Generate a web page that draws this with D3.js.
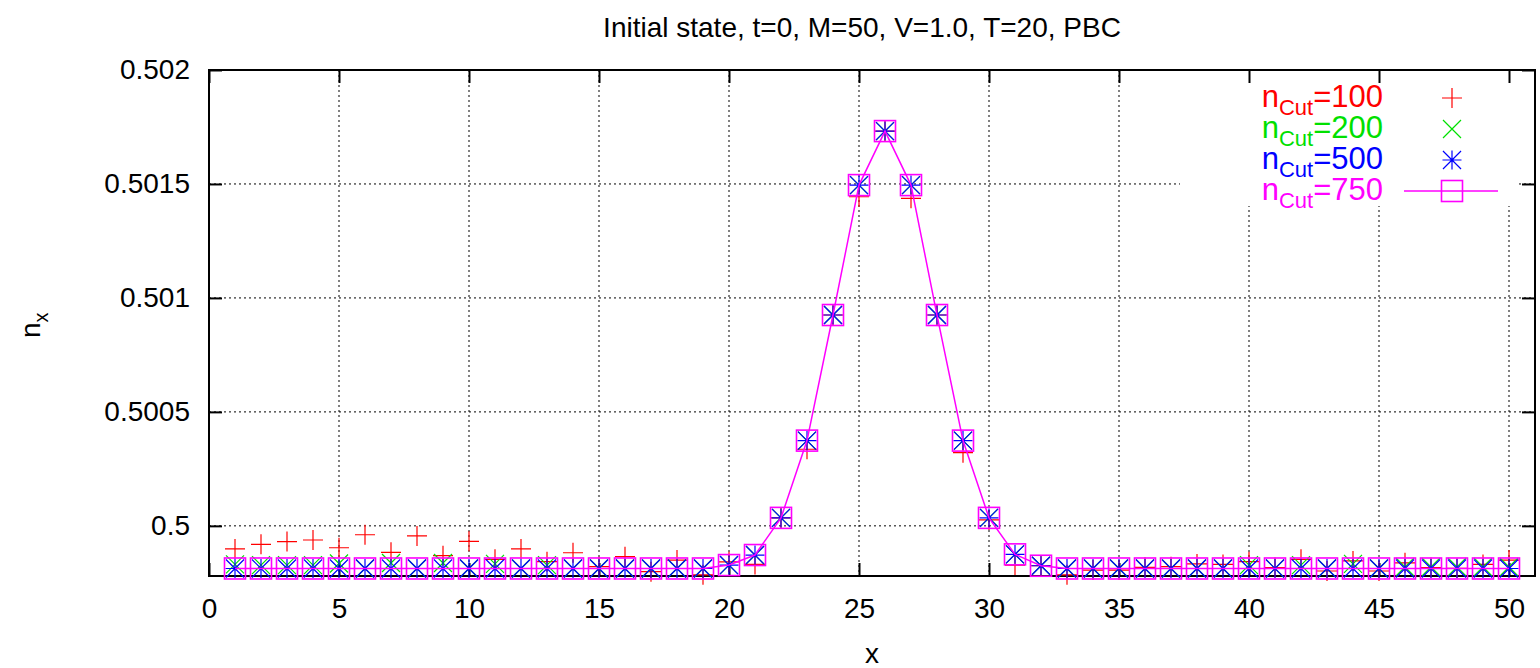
<!DOCTYPE html>
<html>
<head>
<meta charset="utf-8">
<script src="https://cdn.jsdelivr.net/npm/d3@7"></script>
<style>
  body { margin: 0; background: #fff; }
  svg { display: block; font-family: "Liberation Sans", Arial, sans-serif; }
</style>
</head>
<body>
<svg width="1540" height="668"></svg>
<script>
// site index and n_x values for each cutoff
const sites = d3.range(1, 51);
const n100 = [0.499899, 0.499919, 0.499931, 0.499938, 0.499904, 0.499961, 0.499884, 0.499956, 0.499869, 0.499932,
  0.499853, 0.499899, 0.499843, 0.499882, 0.499821, 0.499865, 0.499799, 0.499850, 0.499785, 0.499842,
  0.499831, 0.500035, 0.500336, 0.500925, 0.501444, 0.501732, 0.501437, 0.500925, 0.500321, 0.500026,
  0.499828, 0.499825, 0.499785, 0.499806, 0.499806, 0.499818, 0.499821, 0.499833, 0.499831, 0.499843,
  0.499817, 0.499853, 0.499802, 0.499846, 0.499802, 0.499838, 0.499817, 0.499814, 0.499831, 0.499850];
const n200 = [0.499831, 0.499828, 0.499828, 0.499828, 0.499835, 0.499813, 0.499837, 0.499813, 0.499837, 0.499813,
  0.499833, 0.499813, 0.499828, 0.499813, 0.499813, 0.499813, 0.499813, 0.499813, 0.499813, 0.499828,
  0.499872, 0.500035, 0.500374, 0.500925, 0.501495, 0.501732, 0.501495, 0.500925, 0.500374, 0.500035,
  0.499875, 0.499825, 0.499813, 0.499813, 0.499813, 0.499813, 0.499813, 0.499813, 0.499813, 0.499828,
  0.499813, 0.499828, 0.499813, 0.499833, 0.499813, 0.499820, 0.499820, 0.499820, 0.499820, 0.499820];
const n500 = [0.499813, 0.499813, 0.499813, 0.499813, 0.499813, 0.499813, 0.499813, 0.499813, 0.499813, 0.499813,
  0.499813, 0.499813, 0.499813, 0.499813, 0.499813, 0.499813, 0.499813, 0.499813, 0.499813, 0.499828,
  0.499872, 0.500035, 0.500374, 0.500925, 0.501495, 0.501732, 0.501495, 0.500925, 0.500374, 0.500035,
  0.499875, 0.499825, 0.499813, 0.499813, 0.499813, 0.499813, 0.499813, 0.499813, 0.499813, 0.499813,
  0.499813, 0.499813, 0.499813, 0.499813, 0.499813, 0.499813, 0.499813, 0.499813, 0.499813, 0.499813];
const n750 = [0.499813, 0.499813, 0.499813, 0.499813, 0.499813, 0.499813, 0.499813, 0.499813, 0.499813, 0.499813,
  0.499813, 0.499813, 0.499813, 0.499813, 0.499813, 0.499813, 0.499813, 0.499813, 0.499813, 0.499828,
  0.499872, 0.500035, 0.500374, 0.500925, 0.501495, 0.501732, 0.501495, 0.500925, 0.500374, 0.500035,
  0.499875, 0.499825, 0.499813, 0.499813, 0.499813, 0.499813, 0.499813, 0.499813, 0.499813, 0.499813,
  0.499813, 0.499813, 0.499813, 0.499813, 0.499813, 0.499813, 0.499813, 0.499813, 0.499813, 0.499813];

const cutLabels = ['100', '200', '500', '750'];
const xTicks = d3.range(0, 51, 5);
const yTicks = [0.5, 0.5005, 0.501, 0.5015, 0.502];
const yTickLabels = ['0.5', '0.5005', '0.501', '0.5015', '0.502'];
const title = 'Initial state, t=0, M=50, V=1.0, T=20, PBC';

const svg = d3.select('svg');
const width = 1540, height = 668;
const margin = { top: 70, right: 5, bottom: 92, left: 209 };
const plotWidth = width - margin.left - margin.right;
const plotHeight = height - margin.top - margin.bottom;

const x = d3.scaleLinear().domain([0, 51]).range([0, plotWidth]);
const y = d3.scaleLinear().domain([0.49978, 0.502]).range([plotHeight, 0]);

const g = svg.append('g').attr('transform', `translate(${margin.left},${margin.top})`);

// grid (dotted)
const grid = g.append('g');
xTicks.filter(d => d > 0).forEach(d => {
  grid.append('line')
    .attr('x1', x(d)).attr('x2', x(d)).attr('y1', 0).attr('y2', plotHeight)
    .attr('stroke', '#000').attr('stroke-width', 1).attr('stroke-dasharray', '2,3');
});
yTicks.filter(d => d < 0.502).forEach(d => {
  grid.append('line')
    .attr('x1', 0).attr('x2', plotWidth).attr('y1', y(d)).attr('y2', y(d))
    .attr('stroke', '#000').attr('stroke-width', 1).attr('stroke-dasharray', '2,3');
});

// key area hides the grid
g.append('rect')
  .attr('x', 971).attr('y', 0).attr('width', 338).attr('height', 136)
  .attr('fill', '#fff');

// axes with inward ticks, mirrored
const tickLen = 13;
const axB = g.append('g').attr('transform', `translate(0,${plotHeight})`)
  .call(d3.axisBottom(x).tickValues(xTicks).tickSize(-tickLen).tickPadding(22).tickFormat(d3.format('d')));
const axT = g.append('g')
  .call(d3.axisTop(x).tickValues(xTicks).tickSize(-tickLen).tickFormat(''));
const axL = g.append('g')
  .call(d3.axisLeft(y).tickValues(yTicks).tickSize(-tickLen).tickPadding(19).tickFormat((d, i) => yTickLabels[i]));
const axR = g.append('g').attr('transform', `translate(${plotWidth},0)`)
  .call(d3.axisRight(y).tickValues(yTicks).tickSize(-tickLen).tickFormat(''));

[axB, axT, axL, axR].forEach(a => {
  a.select('.domain').remove();
  a.selectAll('.tick line').attr('stroke', '#000').attr('stroke-width', 2);
  a.selectAll('.tick text').attr('fill', '#000').style('font-size', '28px')
    .style('font-family', '"Liberation Sans", Arial, sans-serif');
});
axB.selectAll('.tick text').attr('dy', '0.71em');

// border
g.append('rect')
  .attr('width', plotWidth).attr('height', plotHeight)
  .attr('fill', 'none').attr('stroke', '#000').attr('stroke-width', 2);

// marker shapes
const plusPath = (cx, cy, r) => `M${cx - r},${cy}H${cx + r}M${cx},${cy - r}V${cy + r}`;
const crossPath = (cx, cy, r) => `M${cx - r},${cy - r}L${cx + r},${cy + r}M${cx - r},${cy + r}L${cx + r},${cy - r}`;
const starPath = (cx, cy, r) => plusPath(cx, cy, r) + crossPath(cx, cy, r * 0.95);

const series = [
  { values: n100, color: '#ff0000', shape: (cx, cy) => plusPath(cx, cy, 10) },
  { values: n200, color: '#00e000', shape: (cx, cy) => crossPath(cx, cy, 9) },
  { values: n500, color: '#0000ff', shape: (cx, cy) => starPath(cx, cy, 9.5) }
];

series.forEach(s => {
  g.append('g').selectAll('path')
    .data(sites)
    .join('path')
    .attr('d', (d, i) => s.shape(x(d), y(s.values[i])))
    .attr('stroke', s.color).attr('stroke-width', 1.2).attr('fill', 'none');
});

// n_Cut = 750 with line and squares
const line = d3.line().x(d => x(d[0])).y(d => y(d[1]));
g.append('path')
  .datum(sites.map((d, i) => [d, n750[i]]))
  .attr('d', line)
  .attr('fill', 'none').attr('stroke', '#ff00ff').attr('stroke-width', 1.5);
g.append('g').selectAll('rect')
  .data(sites)
  .join('rect')
  .attr('x', d => x(d) - 10.5).attr('y', (d, i) => y(n750[i]) - 10.5)
  .attr('width', 21).attr('height', 21)
  .attr('fill', 'none').attr('stroke', '#ff00ff').attr('stroke-width', 1.6);

// legend
const legendColors = ['#ff0000', '#00e000', '#0000ff', '#ff00ff'];
const legend = svg.append('g');
cutLabels.forEach((lab, i) => {
  const cy = 98 + i * 31;
  const t = legend.append('text')
    .attr('x', 1383).attr('y', cy + 9)
    .attr('text-anchor', 'end')
    .attr('fill', legendColors[i])
    .style('font-size', '31px');
  t.append('tspan').text('n');
  t.append('tspan').attr('dy', 8).style('font-size', '22px').text('Cut');
  t.append('tspan').attr('dy', -8).text('=' + lab);
  const sx = 1452;
  if (i === 0) legend.append('path').attr('d', plusPath(sx, cy, 10)).attr('stroke', legendColors[i]).attr('stroke-width', 1.2);
  if (i === 1) legend.append('path').attr('d', crossPath(sx, cy, 9)).attr('stroke', legendColors[i]).attr('stroke-width', 1.2);
  if (i === 2) legend.append('path').attr('d', starPath(sx, cy, 9.5)).attr('stroke', legendColors[i]).attr('stroke-width', 1.2);
  if (i === 3) {
    legend.append('line').attr('x1', 1404).attr('x2', 1498).attr('y1', cy).attr('y2', cy)
      .attr('stroke', legendColors[i]).attr('stroke-width', 1.5);
    legend.append('rect').attr('x', sx - 10.5).attr('y', cy - 10.5).attr('width', 21).attr('height', 21)
      .attr('fill', 'none').attr('stroke', legendColors[i]).attr('stroke-width', 1.6);
  }
});

// title and axis labels
svg.append('text')
  .attr('x', margin.left + plotWidth / 2 - 10).attr('y', 37)
  .attr('text-anchor', 'middle').style('font-size', '28px')
  .text(title);

svg.append('text')
  .attr('x', margin.left + plotWidth / 2).attr('y', 663)
  .attr('text-anchor', 'middle').style('font-size', '28px')
  .text('x');

const yl = svg.append('text')
  .attr('transform', 'translate(40,338) rotate(-90)')
  .attr('text-anchor', 'start').style('font-size', '28px');
yl.append('tspan').text('n');
yl.append('tspan').attr('dy', 8).style('font-size', '20px').text('x');
</script>
</body>
</html>
